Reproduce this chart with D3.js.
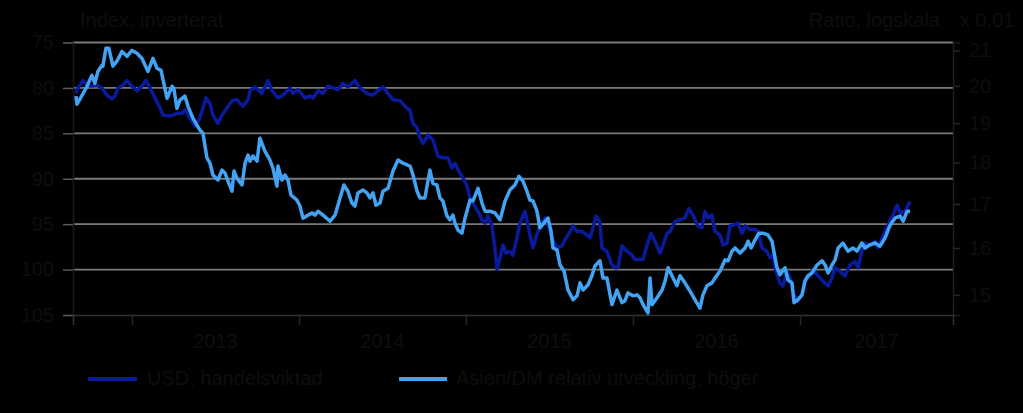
<!DOCTYPE html>
<html>
<head>
<meta charset="utf-8">
<script src="https://cdn.jsdelivr.net/npm/d3@7"></script>
<style>
html,body{margin:0;padding:0;background:#000;}
svg{display:block;}
text{font-family:"Liberation Sans",Arial,sans-serif;}
</style>
</head>
<body>
<div id="chart"></div>
<script>
// ---- Data (decimal year, value) ----
const usdYears = [2012.665,2012.677,2012.707,2012.731,2012.760,2012.790,2012.820,2012.850,2012.880,2012.898,2012.916,2012.946,2012.970,2013.000,2013.030,2013.060,2013.084,2013.108,2013.138,2013.168,2013.186,2013.228,2013.269,2013.299,2013.317,2013.347,2013.377,2013.407,2013.425,2013.443,2013.467,2013.485,2013.515,2013.539,2013.569,2013.599,2013.629,2013.647,2013.665,2013.695,2013.707,2013.737,2013.778,2013.814,2013.838,2013.874,2013.904,2013.946,2013.964,2013.994,2014.036,2014.066,2014.084,2014.114,2014.144,2014.174,2014.204,2014.234,2014.263,2014.293,2014.335,2014.365,2014.407,2014.443,2014.473,2014.503,2014.533,2014.563,2014.605,2014.635,2014.665,2014.683,2014.707,2014.725,2014.743,2014.772,2014.802,2014.832,2014.862,2014.892,2014.916,2014.934,2014.952,2014.982,2015.006,2015.024,2015.042,2015.072,2015.096,2015.114,2015.132,2015.156,2015.174,2015.186,2015.204,2015.222,2015.240,2015.263,2015.281,2015.305,2015.323,2015.353,2015.371,2015.383,2015.401,2015.419,2015.443,2015.473,2015.491,2015.515,2015.545,2015.575,2015.593,2015.611,2015.641,2015.665,2015.695,2015.725,2015.743,2015.760,2015.778,2015.802,2015.814,2015.844,2015.874,2015.892,2015.910,2015.934,2015.964,2015.994,2016.012,2016.042,2016.060,2016.084,2016.108,2016.132,2016.162,2016.180,2016.204,2016.222,2016.251,2016.281,2016.311,2016.335,2016.359,2016.389,2016.413,2016.431,2016.449,2016.473,2016.491,2016.521,2016.539,2016.563,2016.581,2016.599,2016.629,2016.653,2016.671,2016.701,2016.731,2016.749,2016.772,2016.802,2016.820,2016.838,2016.850,2016.880,2016.898,2016.922,2016.940,2016.958,2016.982,2017.012,2017.030,2017.060,2017.078,2017.108,2017.138,2017.168,2017.192,2017.210,2017.240,2017.269,2017.299,2017.329,2017.347,2017.371,2017.389,2017.419,2017.449,2017.467,2017.497,2017.527,2017.557,2017.581,2017.599,2017.629,2017.659];
const usdValues = [80.6,80.0,79.2,79.7,79.8,79.7,80.0,80.8,81.2,80.9,80.0,79.7,79.2,79.8,80.3,79.8,79.2,80.0,81.1,82.2,83.0,83.1,82.8,82.8,82.4,83.3,84.2,83.3,82.2,81.1,81.7,83.0,83.9,83.0,82.2,81.4,81.3,81.7,82.0,81.3,80.3,79.9,80.6,79.2,80.3,81.1,80.8,80.0,80.6,80.2,81.1,80.9,81.1,80.3,80.6,79.8,80.0,80.2,79.5,79.9,79.2,80.0,80.6,80.8,80.3,79.9,80.6,81.3,81.4,82.0,82.5,83.9,84.4,85.5,86.1,85.2,85.7,87.5,87.7,87.7,88.8,88.3,89.0,89.9,90.8,92.1,92.7,93.6,94.5,94.9,94.1,95.2,97.8,100.0,98.7,97.3,98.2,98.0,98.4,96.5,94.9,93.6,95.1,96.2,97.6,96.5,95.2,94.3,95.1,96.5,97.6,97.4,96.7,96.2,95.2,95.8,95.8,96.2,96.5,95.4,94.1,94.7,97.6,98.0,99.5,99.8,99.8,97.4,98.0,98.4,98.9,98.9,98.9,97.3,96.0,96.9,98.2,97.3,96.0,95.8,94.7,94.5,94.3,93.3,94.0,95.2,95.4,93.6,94.3,94.0,95.8,96.2,97.3,97.1,95.2,95.1,94.9,96.0,95.2,95.6,95.6,95.8,97.6,98.0,98.7,98.4,99.8,101.5,101.8,100.2,100.9,102.4,103.5,102.8,101.3,100.7,100.0,100.7,101.3,101.8,100.9,99.8,100.2,100.7,99.5,99.1,99.8,98.0,97.1,97.3,96.9,97.6,96.3,95.1,94.0,92.9,93.8,93.6,92.5];

const ratioYears = [2012.665,2012.671,2012.701,2012.731,2012.760,2012.778,2012.796,2012.820,2012.826,2012.844,2012.862,2012.886,2012.910,2012.940,2012.970,2013.000,2013.030,2013.060,2013.096,2013.126,2013.150,2013.174,2013.210,2013.240,2013.251,2013.269,2013.287,2013.317,2013.335,2013.365,2013.389,2013.407,2013.425,2013.449,2013.467,2013.485,2013.515,2013.539,2013.557,2013.575,2013.599,2013.611,2013.629,2013.659,2013.677,2013.695,2013.707,2013.725,2013.749,2013.766,2013.796,2013.826,2013.844,2013.868,2013.874,2013.898,2013.916,2013.934,2013.952,2013.988,2014.006,2014.024,2014.054,2014.078,2014.096,2014.114,2014.144,2014.186,2014.216,2014.246,2014.269,2014.293,2014.317,2014.335,2014.353,2014.383,2014.407,2014.425,2014.443,2014.461,2014.485,2014.503,2014.533,2014.563,2014.593,2014.623,2014.665,2014.683,2014.707,2014.725,2014.754,2014.772,2014.784,2014.802,2014.826,2014.844,2014.862,2014.886,2014.904,2014.922,2014.934,2014.952,2014.976,2014.994,2015.024,2015.042,2015.072,2015.096,2015.114,2015.144,2015.174,2015.204,2015.234,2015.263,2015.293,2015.317,2015.341,2015.365,2015.383,2015.401,2015.425,2015.443,2015.467,2015.491,2015.509,2015.521,2015.545,2015.563,2015.587,2015.611,2015.641,2015.665,2015.683,2015.701,2015.731,2015.754,2015.772,2015.802,2015.820,2015.844,2015.874,2015.904,2015.934,2015.952,2015.970,2016.000,2016.024,2016.042,2016.060,2016.090,2016.102,2016.114,2016.144,2016.174,2016.192,2016.210,2016.240,2016.263,2016.281,2016.311,2016.341,2016.371,2016.401,2016.419,2016.443,2016.473,2016.491,2016.521,2016.551,2016.569,2016.593,2016.611,2016.641,2016.671,2016.689,2016.707,2016.731,2016.754,2016.778,2016.808,2016.832,2016.862,2016.880,2016.910,2016.928,2016.952,2016.964,2016.988,2017.012,2017.030,2017.048,2017.072,2017.102,2017.132,2017.150,2017.168,2017.192,2017.210,2017.228,2017.257,2017.287,2017.317,2017.341,2017.371,2017.389,2017.419,2017.449,2017.479,2017.509,2017.539,2017.569,2017.599,2017.617,2017.641,2017.659];
const ratioValues = [19.72,19.50,19.74,19.99,20.29,20.07,20.40,20.57,20.55,21.06,21.06,20.55,20.69,20.97,20.83,21.00,20.92,20.77,20.40,20.77,20.49,20.43,19.66,19.99,19.93,19.39,19.61,19.72,19.45,19.13,18.95,18.82,18.74,18.11,17.98,17.69,17.57,17.81,17.74,17.54,17.30,17.79,17.61,17.45,17.98,18.18,18.03,18.16,18.03,18.61,18.28,18.06,17.86,17.42,17.91,17.57,17.69,17.57,17.21,17.09,16.95,16.67,16.74,16.79,16.74,16.83,16.74,16.60,16.74,17.14,17.45,17.30,17.02,16.95,17.26,17.33,17.26,17.14,17.26,16.97,17.02,17.30,17.37,17.79,18.06,17.98,17.91,17.69,17.30,17.14,17.14,17.54,17.81,17.49,17.45,17.14,17.07,16.72,16.63,16.74,16.56,16.40,16.33,16.67,17.09,17.07,17.37,17.02,16.83,16.83,16.79,16.63,17.07,17.33,17.45,17.66,17.54,17.30,17.09,17.07,16.83,16.45,16.56,16.67,16.38,16.00,15.96,15.63,15.50,15.10,14.90,14.98,15.25,15.10,15.21,15.40,15.61,15.72,15.35,15.35,14.80,15.10,14.84,14.88,15.04,14.98,15.00,14.94,14.80,14.63,15.35,14.80,14.94,15.10,15.29,15.57,15.35,15.19,15.40,15.25,15.08,14.90,14.73,15.00,15.19,15.25,15.35,15.50,15.74,15.72,15.93,16.00,15.89,16.00,16.15,16.00,16.18,16.33,16.33,16.29,16.15,15.57,15.42,15.57,15.31,15.25,14.84,14.90,15.00,15.29,15.40,15.46,15.63,15.72,15.63,15.46,15.63,15.74,16.00,16.11,15.93,16.00,15.93,16.11,16.00,16.07,16.11,16.04,16.22,16.51,16.67,16.72,16.60,16.83,16.83];

const leftTicks = [75,80,85,90,95,100,105];
const rightTicks = [15,16,17,18,19,20,21];
const yearTicks = [2013,2014,2015,2016,2017];
const seriesNames = ["USD, handelsviktad","Asien/DM relativ utveckling, höger"];
const seriesColors = ["#0a1a9c","#42a3f2"];
const leftTitle = "Index, inverterat";
const rightTitle = "Ratio, logskala";
const rightUnit = "x 0.01";

// ---- Layout ----
const W = 1023, H = 413;
const plot = {left:73, right:953, top:42.5, bottom:315};
const textColor = "#0e0e0e";

const svg = d3.select("#chart").append("svg").attr("width",W).attr("height",H)
  .style("background","#000");

const x = d3.scaleLinear().domain([2012.647, 2017.916]).range([plot.left, plot.right]);
const yL = d3.scaleLinear().domain([75,105]).range([plot.top, plot.bottom]);
const yR = d3.scaleLog().domain([14.59, 21.23]).range([plot.bottom, plot.top]);

// gridlines
svg.append("g").selectAll("line").data(leftTicks.slice(0,-1)).join("line")
  .attr("x1",plot.left).attr("x2",plot.right)
  .attr("y1",d=>yL(d)).attr("y2",d=>yL(d))
  .attr("stroke","#7a7a7a").attr("stroke-width",1.8);

// left axis
const gL = svg.append("g").attr("transform",`translate(${plot.left},0)`)
  .call(d3.axisLeft(yL).tickValues(leftTicks).tickSize(10).tickPadding(9));
gL.select(".domain").attr("stroke","#1a1a1a").attr("stroke-width",1.5);
gL.selectAll(".tick line").attr("stroke","#5a5a5a").attr("stroke-width",1.5);
gL.selectAll(".tick text").attr("fill",textColor).style("font-size","20px")
  .style("font-family","'Liberation Sans',Arial,sans-serif");

// right axis
const gR = svg.append("g").attr("transform",`translate(${plot.right},0)`)
  .call(d3.axisRight(yR).tickValues(rightTicks).tickFormat(d3.format("d")).tickSize(7).tickPadding(9));
gR.select(".domain").attr("stroke","#1e1e1e").attr("stroke-width",1.5);
gR.selectAll(".tick line").attr("stroke","#262626").attr("stroke-width",1.5);
gR.selectAll(".tick text").attr("fill",textColor).style("font-size","20px")
  .style("font-family","'Liberation Sans',Arial,sans-serif");

// bottom axis
const gB = svg.append("g").attr("transform",`translate(0,${plot.bottom})`)
  .call(d3.axisBottom(x).tickValues(yearTicks).tickSize(10).tickFormat(""));
gB.select(".domain").attr("stroke","#333").attr("stroke-width",1.5);
gB.selectAll(".tick line").attr("stroke","#262626").attr("stroke-width",1.5);

// year labels centred in each year span
const xd = x.domain();
svg.append("g").selectAll("text").data(yearTicks).join("text")
  .attr("x",d=>x((Math.max(d,xd[0])+Math.min(d+1,xd[1]))/2))
  .attr("y",348)
  .attr("text-anchor","middle")
  .attr("fill",textColor).style("font-size","20px")
  .text(d=>d);

// titles
svg.append("text").attr("x",80).attr("y",27).attr("fill",textColor)
  .style("font-size","20px").text(leftTitle);
svg.append("text").attr("x",940).attr("y",27).attr("text-anchor","end").attr("fill",textColor)
  .style("font-size","20px").text(rightTitle);
svg.append("text").attr("x",960).attr("y",27).attr("fill",textColor)
  .style("font-size","20px").text(rightUnit);

// clip
svg.append("clipPath").attr("id","clip").append("rect")
  .attr("x",plot.left).attr("y",plot.top-4).attr("width",plot.right-plot.left).attr("height",plot.bottom-plot.top+4);

const usd = usdYears.map((t,i)=>({t, v:usdValues[i]}));
const ratio = ratioYears.map((t,i)=>({t, v:ratioValues[i]}));

const lineL = d3.line().x(d=>x(d.t)).y(d=>yL(d.v));
const lineR = d3.line().x(d=>x(d.t)).y(d=>yR(d.v));

const gLines = svg.append("g").attr("clip-path","url(#clip)");
gLines.append("path").datum(usd).attr("d",lineL)
  .attr("fill","none").attr("stroke",seriesColors[0]).attr("stroke-width",3.5)
  .attr("stroke-linejoin","round");
gLines.append("path").datum(ratio).attr("d",lineR)
  .attr("fill","none").attr("stroke",seriesColors[1]).attr("stroke-width",3.5)
  .attr("stroke-linejoin","round");

// legend
const legend = [{x1:88,x2:137,tx:147},{x1:399,x2:447,tx:456}];
legend.forEach((l,i)=>{
  svg.append("line").attr("x1",l.x1).attr("x2",l.x2).attr("y1",379).attr("y2",379)
    .attr("stroke",seriesColors[i]).attr("stroke-width",4);
  svg.append("text").attr("x",l.tx).attr("y",385).attr("fill",textColor)
    .style("font-size","20px").text(seriesNames[i]);
});
</script>
</body>
</html>
